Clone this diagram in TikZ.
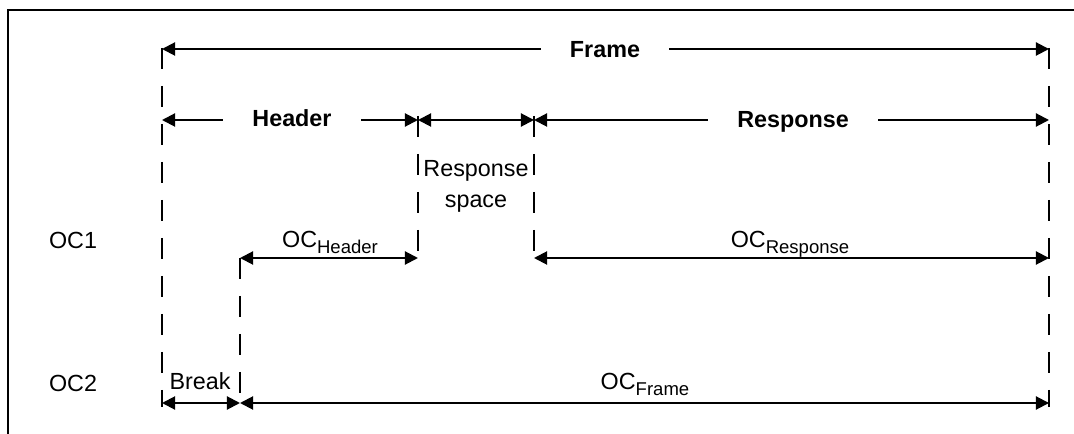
\documentclass[tikz,border=0pt]{standalone}
\usepackage{fontspec}
\setmainfont{Liberation Sans}
\usetikzlibrary{arrows.meta}
\newcommand\subtxt[1]{\raisebox{-4.5pt}{\fontsize{13.9}{14}\selectfont #1}}
\tikzset{
  dim/.style={line width=1.5pt,{Triangle[length=9.8pt,width=9.8pt]}-{Triangle[length=9.8pt,width=9.8pt]}},
  guide/.style={line width=1.5pt,dash pattern=on 15.5pt off 13pt},
  blab/.style={font=\bfseries\fontsize{17.5}{20}\selectfont,fill=white,inner xsep=22pt,inner ysep=2pt,anchor=base},
  lab/.style={font=\fontsize{17.5}{20}\selectfont,inner sep=0pt,anchor=base},
}
\begin{document}
\begin{tikzpicture}[x=0.75pt,y=-0.75pt]
\useasboundingbox (0,0) rectangle (1074,434);
% border
\draw[line width=1.8pt] (8,434) -- (8,10) -- (1074,10);
% guide coordinates
\coordinate (a1) at (162,48);   \coordinate (a2) at (162,407);
\coordinate (b1) at (240,258);  \coordinate (b2) at (240,407);
\coordinate (c1) at (418,116);  \coordinate (c2) at (418,261);
\coordinate (d1) at (534,116);  \coordinate (d2) at (534,261);
\coordinate (e1) at (1049,48);  \coordinate (e2) at (1049,407);
\draw[guide] (a1) -- (a2);
\draw[guide] (b1) -- (b2);
\draw[guide] (c1) -- (c2);
\draw[guide] (d1) -- (d2);
\draw[guide] (e1) -- (e2);
% arrow end points
\coordinate (fL) at (162,49);  \coordinate (fR) at (1049,49);
\coordinate (hL) at (162,120); \coordinate (hR) at (418,120);
\coordinate (rR) at (534,120); \coordinate (xR) at (1049,120);
\coordinate (ohL) at (240,258); \coordinate (ohR) at (418,258);
\coordinate (orL) at (534,258); \coordinate (orR) at (1049,258);
\coordinate (bkL) at (162,403); \coordinate (bkR) at (240,403);
\coordinate (ofR) at (1049,403);
\draw[dim] (fL) -- (fR);
\draw[dim] (hL) -- (hR);
\draw[dim] (hR) -- (rR);
\draw[dim] (rR) -- (xR);
\draw[dim] (ohL) -- (ohR);
\draw[dim] (orL) -- (orR);
\draw[dim] (bkL) -- (bkR);
\draw[dim] (bkR) -- (ofR);
% labels
\node[blab] (frame) at (605,58) {Frame};
\node[blab] (header) at (292,127) {Header};
\node[blab] (response) at (793,128) {Response};
\node[lab] (rs1) at (476,177) {Response};
\node[lab] (rs2) at (476,208) {space};
\node[lab] (oc1) at (73,249) {OC1};
\node[lab] (och) at (330,248) {OC\subtxt{Header}};
\node[lab] (ocr) at (790,248) {OC\subtxt{Response}};
\node[lab] (oc2) at (73,392) {OC2};
\node[lab] (brk) at (200,389) {Break};
\node[lab] (ocf) at (645,389) {OC\subtxt{Frame}};
\end{tikzpicture}
\end{document}
